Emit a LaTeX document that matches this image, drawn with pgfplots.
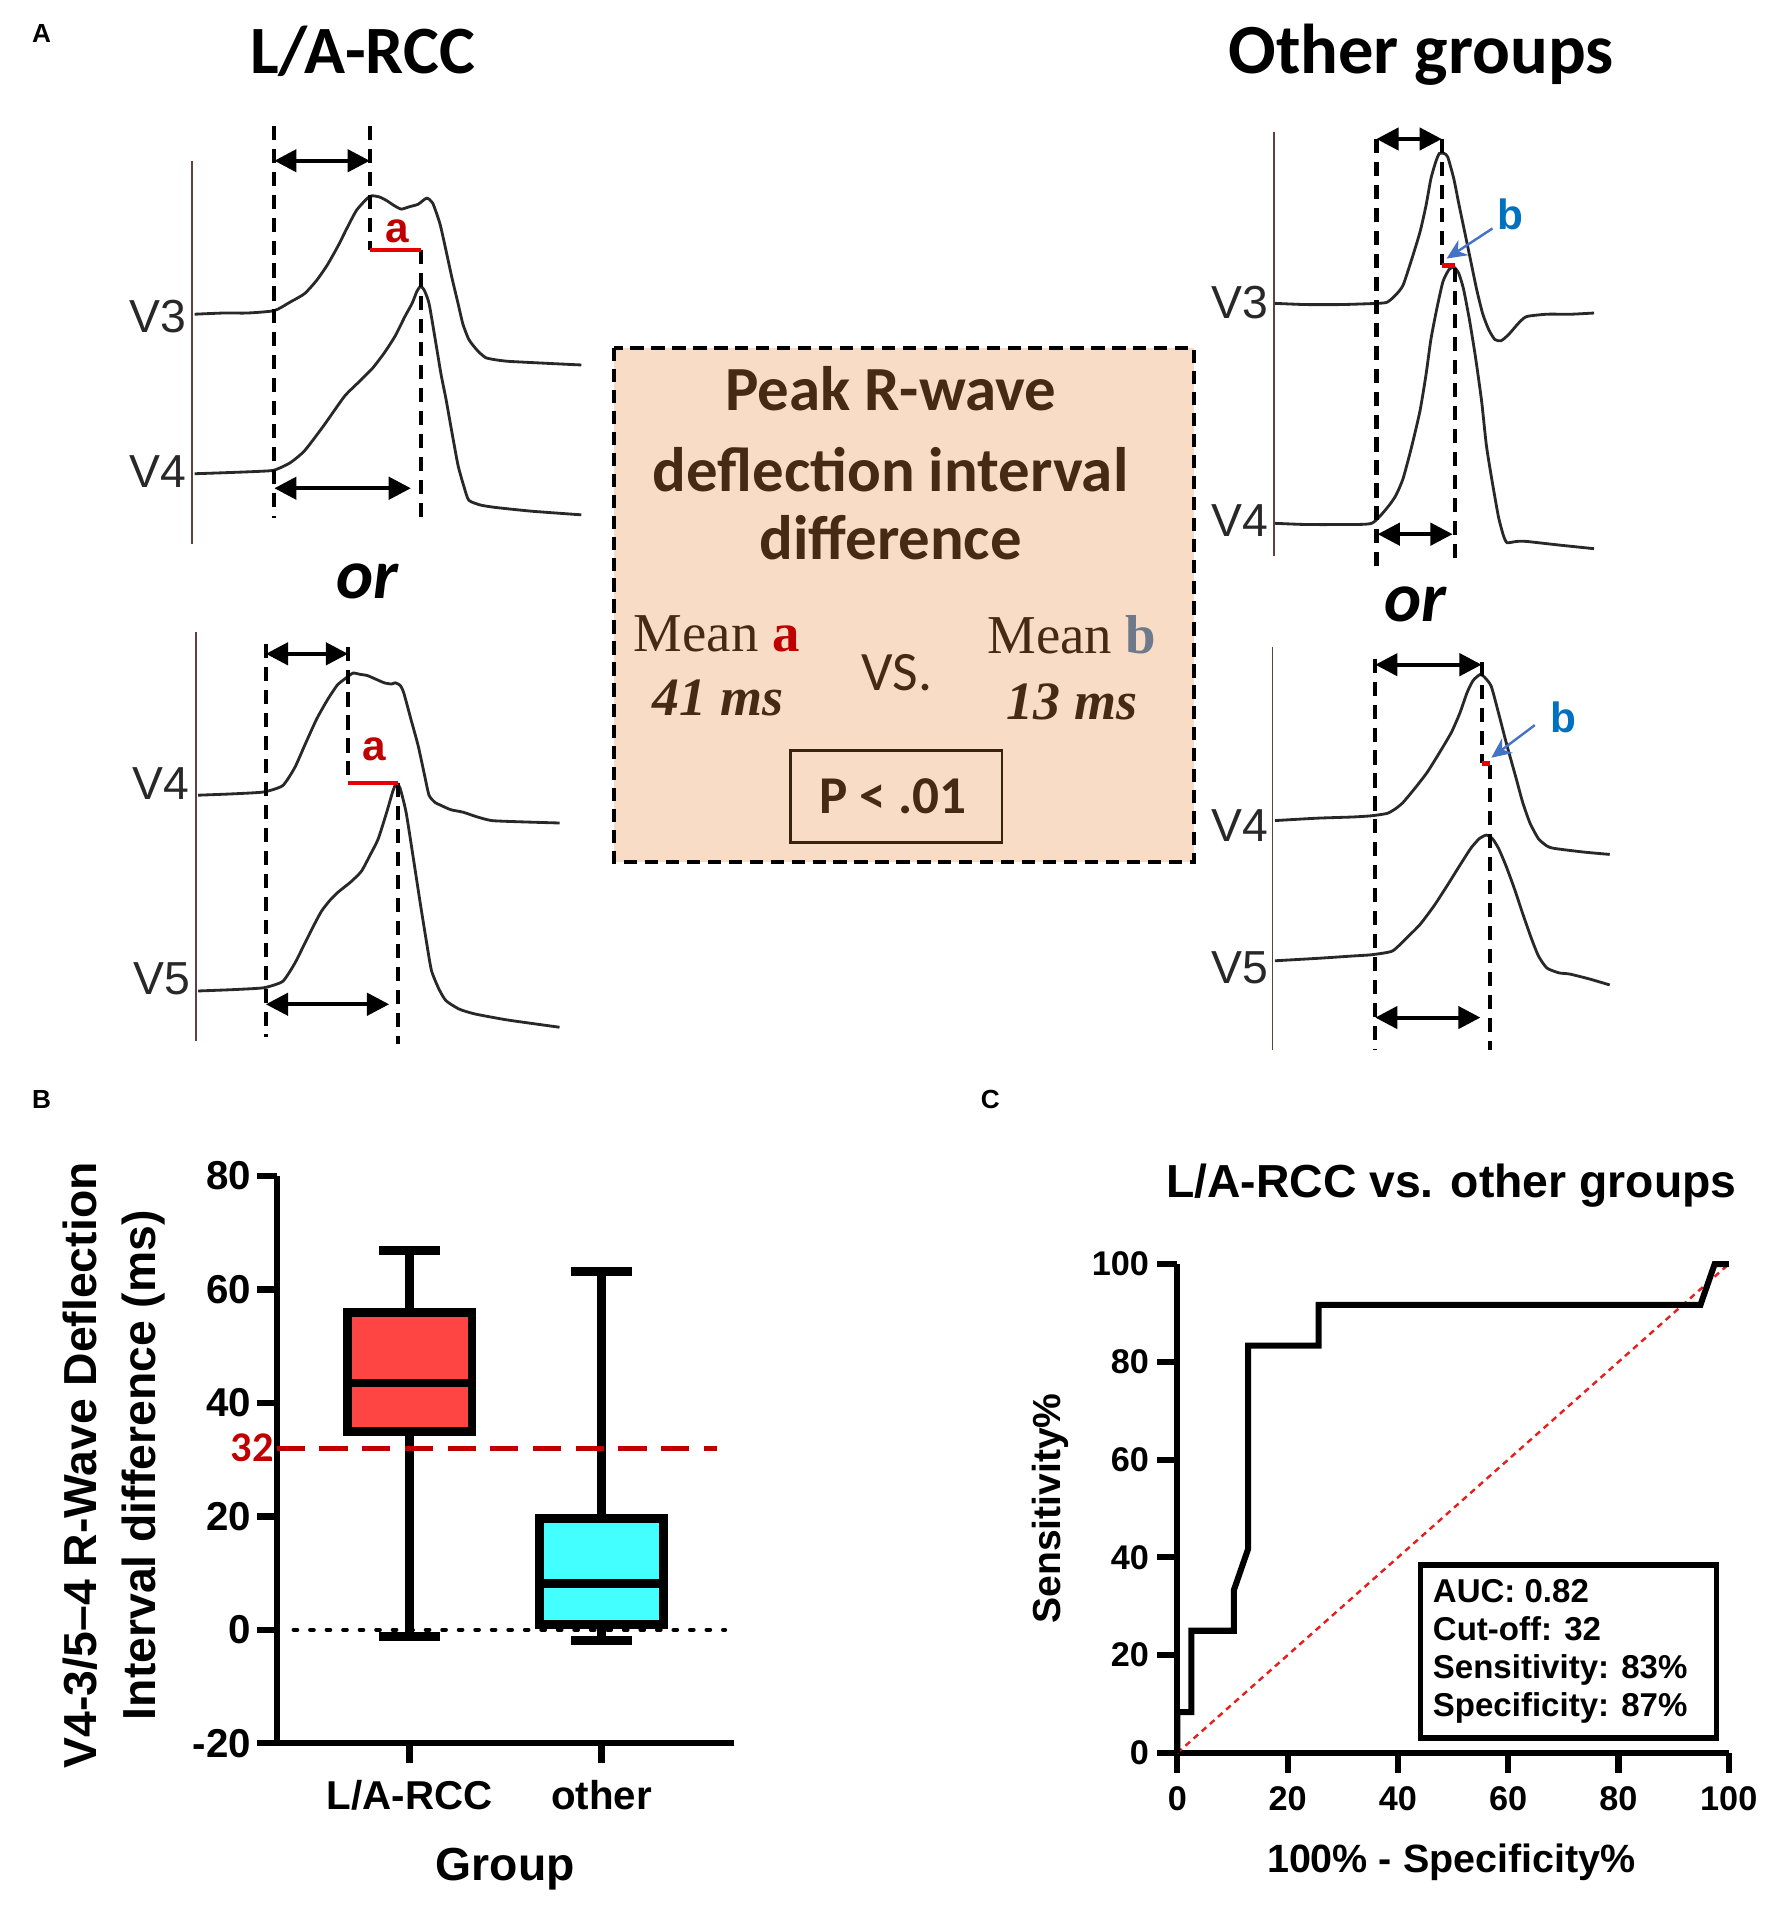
\documentclass[border=0pt]{standalone}
\usepackage{pgfplots}
\pgfplotsset{compat=1.18}
\usepgfplotslibrary{statistics}
\usetikzlibrary{arrows.meta}
\usepackage{fontspec}
\setmainfont{Liberation Sans}
\newfontfamily\carlito{Carlito}
\newfontfamily\tnr{Liberation Serif}

\definecolor{peach}{RGB}{249,220,198}
\definecolor{brownT}{RGB}{70,42,20}
\definecolor{redA}{RGB}{192,0,0}
\definecolor{redseg}{RGB}{230,0,0}
\definecolor{blueB}{RGB}{0,112,192}
\definecolor{arrowblue}{RGB}{68,114,196}
\definecolor{grayb}{RGB}{110,122,140}
\definecolor{boxred}{RGB}{255,68,68}
\definecolor{boxcyan}{RGB}{68,255,255}
\definecolor{ecggray}{RGB}{40,40,40}
\definecolor{axisbrown}{RGB}{95,65,65}
\definecolor{diagred}{RGB}{230,30,30}

\pgfplotsset{ecg/.style={color=ecggray, line width=0.7pt, smooth, tension=0.35, mark=none}}
\tikzset{
  vdash/.style={black, line width=1pt, dash pattern=on 3.5pt off 2.2pt},
  darr/.style={black, line width=1pt, {Triangle[length=5.5pt,width=5.5pt]}-{Triangle[length=5.5pt,width=5.5pt]}},
  ecgax/.style={axisbrown, line width=0.45pt},
  lead/.style={text=ecggray, font=\fontsize{11.5}{12}\selectfont, anchor=east, inner sep=0pt},
  barr/.style={arrowblue, line width=0.6pt, -{Stealth[length=5pt,width=4.5pt]}},
}

\begin{document}
\begin{tikzpicture}
% ---------------- Panel A (canvas in pixel units) ----------------
\begin{axis}[anchor=center, at={(219.9pt,-236.7pt)}, scale only axis,
  width=439.8pt, height=473.4pt, xmin=0, xmax=1466, ymin=0, ymax=1578,
  y dir=reverse, hide axis, clip=false]
% panel letters
\node[anchor=base west, inner sep=0pt, font=\bfseries\fontsize{6.5}{7}\selectfont] at (26,35) {A};
\node[anchor=base west, inner sep=0pt, font=\bfseries\fontsize{6.5}{7}\selectfont] at (26,917) {B};
\node[anchor=base west, inner sep=0pt, font=\bfseries\fontsize{6.5}{7}\selectfont] at (811,917) {C};
% titles
\node[anchor=base, inner sep=0pt, font=\carlito\bfseries\fontsize{16.8}{18}\selectfont] at (300,61) {L/A-RCC};
\node[anchor=base, inner sep=0pt, font=\carlito\bfseries\fontsize{17.5}{19}\selectfont] at (1176,61) {Other groups};
\node[anchor=base, inner sep=0pt, font=\carlito\bfseries\itshape\fontsize{17.5}{19}\selectfont] at (304,495) {or};
\node[anchor=base, inner sep=0pt, font=\carlito\bfseries\itshape\fontsize{17.5}{19}\selectfont] at (1171,514) {or};

% ===== top-left: V3 / V4 =====
\draw[ecgax] (159,133) -- (159,450);
\node[lead] at (155,262) {V3};
\node[lead] at (155,390) {V4};
\addplot[ecg] coordinates {(161,260) (185,259) (205,259) (227,257) (240,250) (252,243) (262,232) (271,219) (280,203) (287,189) (295,174) (304,164) (308,162) (314,163) (320,166) (326,170) (332,173) (339,171) (346,169) (353,164) (358,168) (364,185) (369,207) (374,230) (379,251) (383,268) (388,281) (395,290) (402,296) (412,298) (421,299) (440,300) (460,301) (481,302)};
\addplot[ecg] coordinates {(161,392) (190,391) (215,390) (227,389) (240,383) (252,373) (268,352) (285,328) (297,316) (308,305) (318,292) (327,278) (335,262) (341,251) (345,241) (348,237) (351,240) (355,251) (360,280) (365,310) (369,330) (374,358) (379,385) (384,403) (388,414) (398,418) (411,420) (440,423) (481,426)};
\draw[vdash] (227,104) -- (227,429);
\draw[vdash] (306,104) -- (306,207);
\draw[vdash] (348,207) -- (348,432);
\draw[darr] (227,133) -- (306,133);
\draw[darr] (227,404) -- (340,404);
\draw[redseg, line width=1pt] (306,207) -- (348,207);
\node[anchor=base, inner sep=0pt, text=redA, font=\bfseries\fontsize{10.5}{12}\selectfont] at (329,201) {a};

% ===== bottom-left: V4 / V5 =====
\draw[ecgax] (162,523) -- (162,861);
\node[lead] at (157,648) {V4};
\node[lead] at (158,810) {V5};
\addplot[ecg] coordinates {(164,658) (190,657) (210,656) (220,655) (234,650) (244,635) (252,617) (262,595) (271,579) (279,567) (285,562) (292,557) (298,558) (304,559) (311,562) (318,565) (324,566) (327,565) (331,567) (334,573) (340,595) (346,617) (351,640) (355,658) (360,664) (364,666) (373,670) (383,672) (395,676) (407,679) (430,680) (463,681)};
\addplot[ecg] coordinates {(164,820) (190,819) (210,818) (220,817) (234,812) (244,797) (252,781) (259,767) (266,754) (273,745) (280,738) (290,730) (299,721) (306,708) (313,694) (320,672) (325,655) (328,648) (331,652) (336,672) (342,710) (348,749) (353,780) (357,803) (363,818) (369,828) (380,835) (393,839) (420,844) (463,850)};
\draw[vdash] (220,533) -- (220,858);
\draw[vdash] (288,535) -- (288,648);
\draw[vdash] (329,648) -- (329,864);
\draw[darr] (220,541) -- (288,541);
\draw[darr] (220,831) -- (322,831);
\draw[redseg, line width=1pt] (288,648) -- (329,648);
\node[anchor=base, inner sep=0pt, text=redA, font=\bfseries\fontsize{10.5}{12}\selectfont] at (310,629) {a};

% ===== top-right: V3 / V4 =====
\draw[ecgax] (1054,109) -- (1054,460);
\node[lead] at (1050,250) {V3};
\node[lead] at (1050,431) {V4};
\addplot[ecg] coordinates {(1055,251) (1080,252) (1110,252) (1140,251) (1148,250) (1155,244) (1161,236) (1168,215) (1175,192) (1180,170) (1184,148) (1188,134) (1191,127) (1195,127) (1198,130) (1203,148) (1207,168) (1212,192) (1217,216) (1222,240) (1227,260) (1232,273) (1237,281) (1242,282) (1246,279) (1250,275) (1256,268) (1263,262) (1280,260) (1300,260) (1319,259)};
\addplot[ecg] coordinates {(1055,433) (1080,434) (1110,434) (1135,433) (1148,420) (1155,410) (1161,396) (1168,370) (1175,340) (1180,310) (1184,281) (1189,255) (1194,233) (1199,223) (1203,221) (1207,226) (1211,239) (1216,265) (1221,296) (1226,332) (1230,369) (1235,400) (1240,428) (1244,443) (1247,449) (1255,448) (1263,448) (1290,451) (1319,454)};
\draw[vdash] (1139,115) -- (1139,469);
\draw[vdash] (1193,115) -- (1193,219);
\draw[vdash] (1204,222) -- (1204,462);
\draw[darr] (1139,115) -- (1193,115);
\draw[darr] (1140,442) -- (1202,442);
\draw[redseg, line width=1.2pt] (1193,220) -- (1204,220);
\draw[barr] (1235,189) -- (1197,214);
\node[anchor=base, inner sep=0pt, text=blueB, font=\bfseries\fontsize{10.5}{12}\selectfont] at (1250,190) {b};

% ===== bottom-right: V4 / V5 =====
\draw[ecgax] (1053,535) -- (1053,869);
\node[lead] at (1050,683) {V4};
\node[lead] at (1050,801) {V5};
\addplot[ecg] coordinates {(1055,679) (1090,677) (1120,676) (1135,675) (1148,673) (1155,669) (1161,664) (1171,652) (1181,639) (1191,623) (1201,606) (1208,590) (1214,573) (1219,563) (1225,558) (1229,561) (1234,568) (1240,590) (1247,617) (1254,642) (1260,664) (1266,681) (1273,694) (1280,700) (1286,702) (1310,705) (1332,707)};
\addplot[ecg] coordinates {(1055,795) (1090,793) (1120,791) (1135,790) (1152,787) (1163,777) (1175,765) (1187,749) (1198,732) (1208,716) (1217,702) (1224,694) (1230,691) (1235,694) (1240,702) (1246,716) (1253,735) (1260,756) (1267,776) (1273,791) (1280,801) (1290,805) (1299,806) (1315,810) (1332,815)};
\draw[vdash] (1138,545) -- (1138,869);
\draw[vdash] (1226,548) -- (1226,631);
\draw[vdash] (1233,633) -- (1233,869);
\draw[darr] (1138,550) -- (1226,550);
\draw[darr] (1138,842) -- (1225,842);
\draw[redseg, line width=1.2pt] (1226,632) -- (1233,632);
\draw[barr] (1270,600) -- (1234,627);
\node[anchor=base, inner sep=0pt, text=blueB, font=\bfseries\fontsize{10.5}{12}\selectfont] at (1294,606) {b};

% ===== central box =====
\draw[draw=black, fill=peach, line width=1pt, dash pattern=on 3.3pt off 1.9pt] (508,288) rectangle (988,713);
\node[anchor=base, inner sep=0pt, text=brownT, font=\carlito\bfseries\fontsize{15.6}{17}\selectfont] at (737,340) {Peak R-wave};
\node[anchor=base, inner sep=0pt, text=brownT, font=\carlito\bfseries\fontsize{15.6}{17}\selectfont] at (737,407) {deflection interval};
\node[anchor=base, inner sep=0pt, text=brownT, font=\carlito\bfseries\fontsize{15.6}{17}\selectfont] at (737,463) {difference};
\node[anchor=base, inner sep=0pt, text=brownT, font=\tnr\fontsize{13.6}{15}\selectfont] at (593,539) {Mean \textcolor{redA}{\bfseries a}};
\node[anchor=base, inner sep=0pt, text=brownT, font=\tnr\bfseries\itshape\fontsize{13.4}{15}\selectfont] at (594,592) {41 ms};
\node[anchor=base, inner sep=0pt, text=brownT, font=\carlito\fontsize{13.8}{15}\selectfont] at (742,571) {VS.};
\node[anchor=base, inner sep=0pt, text=brownT, font=\tnr\fontsize{13.6}{15}\selectfont] at (887,541) {Mean \textcolor{grayb}{\bfseries b}};
\node[anchor=base, inner sep=0pt, text=brownT, font=\tnr\bfseries\itshape\fontsize{13.4}{15}\selectfont] at (887,595) {13 ms};
\draw[brownT!80!black, line width=0.6pt] (654,621) rectangle (829,697);
\node[anchor=base, inner sep=0pt, text=brownT, font=\carlito\bfseries\fontsize{13.2}{15}\selectfont] at (739,673) {P < .01};
\end{axis}

% ---------------- Panel B: box plot ----------------
\begin{axis}[at={(68.7pt,-432.75pt)}, anchor=south west, scale only axis,
  width=113.55pt, height=140.85pt,
  xmin=0.307, xmax=2.692, ymin=-20, ymax=80,
  axis x line*=bottom, axis y line*=left,
  axis line style={line width=1.6pt, black},
  xtick={1,2}, xticklabels={L/A-RCC, other},
  ytick={-20,0,20,40,60,80},
  tick align=outside, major tick length=5pt,
  tick style={line width=1.6pt, black},
  /pgf/number format/assume math mode=true,
  ticklabel style={font=\bfseries\fontsize{10}{12}\selectfont},
  xticklabel style={anchor=base, yshift=-11.5pt},
  yticklabel style={xshift=2.1pt},
  xlabel={Group},
  xlabel style={at={(axis description cs:0.4993,-0.2417)}, anchor=base, inner sep=0pt, font=\bfseries\fontsize{11.5}{13}\selectfont},
  ylabel={V4-3/5–4 R-Wave Deflection\\Interval difference (ms)},
  ylabel style={at={(axis description cs:-0.3553,0.49)}, anchor=center, align=center, inner sep=0pt, font=\bfseries\fontsize{11.5}{14.7}\selectfont},
  clip=false]
\addplot[black, line width=1pt, dash pattern=on 0.9pt off 3.2pt, line cap=round] coordinates {(0.395,0) (2.645,0)};
\addplot[boxplot prepared={draw direction=y, draw position=1, lower whisker=-1.2, lower quartile=34.9, median=43.5, upper quartile=55.9, upper whisker=66.9, box extend=0.65, whisker extend=0.32}, draw=black, fill=boxred, line width=2.2pt] coordinates {};
\addplot[boxplot prepared={draw direction=y, draw position=2, lower whisker=-1.9, lower quartile=1.0, median=8.1, upper quartile=19.6, upper whisker=63.1, box extend=0.65, whisker extend=0.32}, draw=black, fill=boxcyan, line width=2.2pt] coordinates {};
\addplot[redA, line width=1.2pt, dash pattern=on 7pt off 3.6pt] coordinates {(0.307,32) (2.60,32)};
\node[anchor=east, inner sep=0pt, text=redA, font=\carlito\bfseries\fontsize{10.5}{11}\selectfont] at (axis cs:0.295,32) {32};
\end{axis}

% ---------------- Panel C: ROC ----------------
\begin{axis}[at={(292.26pt,-435.15pt)}, anchor=south west, scale only axis,
  width=136.89pt, height=121.35pt,
  xmin=0, xmax=100, ymin=0, ymax=100,
  axis x line*=bottom, axis y line*=left,
  axis line style={line width=1.5pt, black},
  xtick={0,20,...,100}, ytick={0,20,...,100},
  tick align=outside, major tick length=5pt,
  tick style={line width=1.5pt, black},
  /pgf/number format/assume math mode=true,
  ticklabel style={font=\bfseries\fontsize{8.5}{10}\selectfont},
  xticklabel style={anchor=base, yshift=-9.4pt},
  yticklabel style={xshift=1.5pt},
  every axis title shift=0pt,
  title={L/A-RCC vs. other groups},
  title style={at={(axis description cs:0.497,1.136)}, anchor=base, inner sep=0pt, font=\bfseries\fontsize{11.5}{13}\selectfont},
  xlabel={100\% - Specificity\%},
  xlabel style={at={(axis description cs:0.497,-0.2455)}, anchor=base, inner sep=0pt, font=\bfseries\fontsize{9.8}{12}\selectfont},
  ylabel={Sensitivity\%},
  ylabel style={at={(axis description cs:-0.2306,0.5)}, anchor=center, inner sep=0pt, font=\bfseries\fontsize{9.7}{12}\selectfont},
  clip=false]
\addplot[diagred, line width=0.6pt, dash pattern=on 1.5pt off 1.2pt] coordinates {(0,0) (100,100)};
\addplot[black, line width=1.5pt, mark=none] coordinates {(0,0) (0,8.33) (2.56,8.33) (2.56,25) (10.26,25) (10.26,33.33) (12.82,41.67) (12.82,83.33) (25.64,83.33) (25.64,91.67) (94.87,91.67) (97.44,100) (100,100)};
\draw[black, line width=1.4pt, fill=white] (axis cs:44.1,3.1) rectangle (axis cs:97.8,38.4);
\node[anchor=base west, inner sep=0pt, font=\bfseries\fontsize{8.2}{10}\selectfont] at (axis cs:46.2,30.8) {AUC: 0.82};
\node[anchor=base west, inner sep=0pt, font=\bfseries\fontsize{8.2}{10}\selectfont] at (axis cs:46.2,23.0) {Cut-off: 32};
\node[anchor=base west, inner sep=0pt, font=\bfseries\fontsize{8.2}{10}\selectfont] at (axis cs:46.2,15.2) {Sensitivity: 83\%};
\node[anchor=base west, inner sep=0pt, font=\bfseries\fontsize{8.2}{10}\selectfont] at (axis cs:46.2,7.5) {Specificity: 87\%};
\end{axis}

\pgfresetboundingbox
\useasboundingbox (0pt,0pt) rectangle (439.8pt,-473.4pt);
\end{tikzpicture}
\end{document}
